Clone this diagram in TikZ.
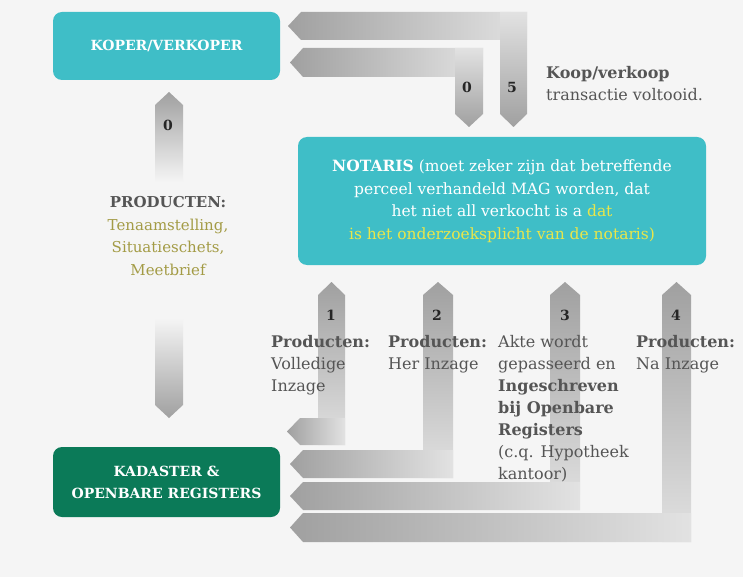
\documentclass[tikz,border=0pt]{standalone}
\usepackage{fontspec}
\setmainfont{DejaVu Serif}
\definecolor{bgc}{HTML}{F5F5F5}
\definecolor{tealbox}{HTML}{3FBEC7}
\definecolor{kgreen}{HTML}{0B7A58}
\definecolor{adark}{HTML}{A0A0A0}
\definecolor{alight}{HTML}{E2E2E2}
\definecolor{txtc}{HTML}{555555}
\definecolor{olivec}{HTML}{A39B45}
\definecolor{yelc}{HTML}{E9E64A}
\newcommand\hbandL[4]{%
 \shade[left color=adark,right color=alight] (#1,{(#3+#4)/2}) -- ({#1+13},#3) -- (#2,#3) -- (#2,#4) -- ({#1+13},#4) -- cycle;}
\newcommand\vbandDown[4]{%
 \shade[top color=alight,bottom color=adark] (#1,#3) -- (#2,#3) -- (#2,{#4-13}) -- ({(#1+#2)/2},#4) -- (#1,{#4-13}) -- cycle;}
\newcommand\vbandUp[4]{%
 \shade[top color=adark,bottom color=alight] ({(#1+#2)/2},#3) -- (#2,{#3+13}) -- (#2,#4) -- (#1,#4) -- (#1,{#3+13}) -- cycle;}
\tikzset{
 box/.style={rounded corners=9pt, text=white, font=\bfseries\fontsize{14}{22}\selectfont, align=center, inner sep=0pt},
 num/.style={font=\bfseries\fontsize{14}{16}\selectfont, text=black!85, inner sep=0pt},
 lbl/.style={font=\fontsize{16}{22}\selectfont, text=txtc, align=left, inner sep=0pt, anchor=north west}
}
\begin{document}
\begin{tikzpicture}[x=1pt,y=-1pt]
\fill[bgc] (0,0) rectangle (743,577);
\useasboundingbox (0,0) rectangle (743,577);
% top arrows
\hbandL{288}{527}{12}{40}
\vbandDown{500}{527}{12}{127}
\hbandL{290}{483}{48}{77}
\vbandDown{455}{483}{48}{127}
% left double arrow
\shade[top color=adark,bottom color=bgc] (169,92) -- (183,105) -- (183,182) -- (155,182) -- (155,105) -- cycle;
\shade[top color=bgc,bottom color=adark] (155,318) -- (183,318) -- (183,405) -- (169,418) -- (155,405) -- cycle;
% bottom arrows
\vbandUp{318}{345}{282}{445}
\hbandL{287}{345}{418}{445}
\vbandUp{423}{453}{282}{478}
\hbandL{290}{453}{450}{478}
\vbandUp{550}{580}{282}{510}
\hbandL{290}{580}{482}{510}
\vbandUp{662}{691}{282}{542}
\hbandL{290}{691}{513}{542}
% boxes
\node[box, fill=tealbox, minimum width=227pt, minimum height=68pt] (kv) at (166.5,46) {KOPER/VERKOPER};
\node[box, fill=kgreen, minimum width=227pt, minimum height=70pt] (kad) at (166.5,482) {KADASTER \&\\OPENBARE REGISTERS};
\node[box, fill=tealbox, minimum width=408pt, minimum height=128pt, font=\fontsize{15.5}{22.5}\selectfont] (not) at (502,201)
 {\textbf{NOTARIS} (moet zeker zijn dat betreffende\\perceel verhandeld MAG worden, dat\\het niet all verkocht is a \textcolor{yelc}{dat}\\\textcolor{yelc}{is het onderzoeksplicht van de notaris)}};
% numbers
\node[num] (n0a) at (467,87) {0};
\node[num] (n5) at (512,87) {5};
\node[num] (n0b) at (168,125) {0};
\node[num] (n1) at (331,315) {1};
\node[num] (n2) at (437,315) {2};
\node[num] (n3) at (565,315) {3};
\node[num] (n4) at (676,315) {4};
% texts
\node[lbl] (tk) at (546,66) {\textbf{Koop/verkoop}\\transactie voltooid.};
\node[font=\fontsize{15}{22.5}\selectfont, align=center, inner sep=0pt, text=olivec] (tp) at (168,236)
 {\textcolor{txtc}{\textbf{PRODUCTEN:}}\\Tenaamstelling,\\Situatieschets,\\Meetbrief};
\node[lbl] (t1) at (271,335) {\textbf{Producten:}\\Volledige\\Inzage};
\node[lbl] (t2) at (388,335) {\textbf{Producten:}\\Her Inzage};
\node[lbl] (t3) at (498,335) {Akte wordt\\gepasseerd en\\\textbf{Ingeschreven}\\\textbf{bij Openbare}\\\textbf{Registers}\\(c.q. Hypotheek\\kantoor)};
\node[lbl] (t4) at (636,335) {\textbf{Producten:}\\Na Inzage};
\end{tikzpicture}
\end{document}
